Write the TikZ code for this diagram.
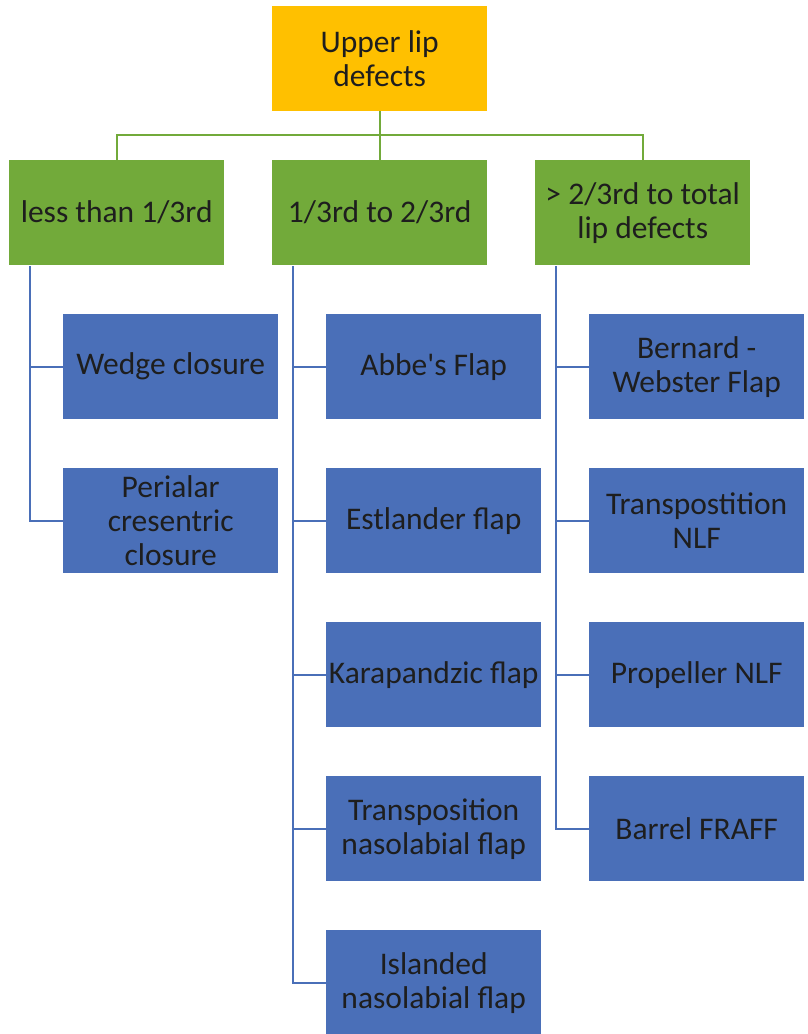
\documentclass[tikz,border=0pt]{standalone}
\usepackage{fontspec}
\setmainfont{Carlito}
\begin{document}
\begin{tikzpicture}[x=1pt,y=-1pt,
  box/.style={rectangle, anchor=north west, inner sep=0pt,
    minimum width=215pt, minimum height=105pt, align=center,
    text=txt, font=\fontsize{31.5}{34}\selectfont},
  topbox/.style={box, fill=orangefill},
  catbox/.style={box, fill=greenfill},
  leafbox/.style={box, fill=bluefill},
  gline/.style={draw=greenfill, line width=2.4pt},
  bline/.style={draw=bluefill, line width=2.4pt}]
\definecolor{orangefill}{HTML}{FFC000}
\definecolor{greenfill}{HTML}{72AA3A}
\definecolor{bluefill}{HTML}{4A6FB8}
\definecolor{txt}{HTML}{1E1E1E}
\useasboundingbox (0,0) rectangle (808,1034);

% root
\node[topbox] (top) at (272,6) {Upper lip\\defects};

% categories
\node[catbox] (g1) at (9,160)   {less than 1/3rd};
\node[catbox] (g2) at (272,160) {1/3rd to 2/3rd};
\node[catbox] (g3) at (535,160) {> 2/3rd to total\\lip defects};

% leaves, first column
\node[leafbox] (a1) at (63,314) {Wedge closure};
\node[leafbox] (a2) at (63,468) {Perialar\\cresentric\\closure};

% leaves, second column
\node[leafbox] (b1) at (326,314) {Abbe\textquotesingle s Flap};
\node[leafbox] (b2) at (326,468) {Estlander flap};
\node[leafbox] (b3) at (326,622) {Karapandzic flap};
\node[leafbox] (b4) at (326,776) {Transposition\\nasolabial flap};
\node[leafbox] (b5) at (326,930) {Islanded\\nasolabial flap};

% leaves, third column
\node[leafbox] (c1) at (589,314) {Bernard -\\Webster Flap};
\node[leafbox] (c2) at (589,468) {Transpostition\\NLF};
\node[leafbox] (c3) at (589,622) {Propeller NLF};
\node[leafbox] (c4) at (589,776) {Barrel FRAFF};

% root to categories
\coordinate (bus) at (379.5,135);
\draw[gline] (top.south) -- (g2.north);
\draw[gline] (g1.north) |- (bus) -| (g3.north);

% category spines
\coordinate (s1) at (30,266);
\coordinate (s2) at (293,266);
\coordinate (s3) at (556,266);

\draw[bline] (s1) |- (a2.west);
\draw[bline] (s1 |- a1.west) -- (a1.west);

\draw[bline] (s2) |- (b5.west);
\foreach \n in {b1,b2,b3,b4}
  \draw[bline] (s2 |- \n.west) -- (\n.west);

\draw[bline] (s3) |- (c4.west);
\foreach \n in {c1,c2,c3}
  \draw[bline] (s3 |- \n.west) -- (\n.west);
\end{tikzpicture}
\end{document}
